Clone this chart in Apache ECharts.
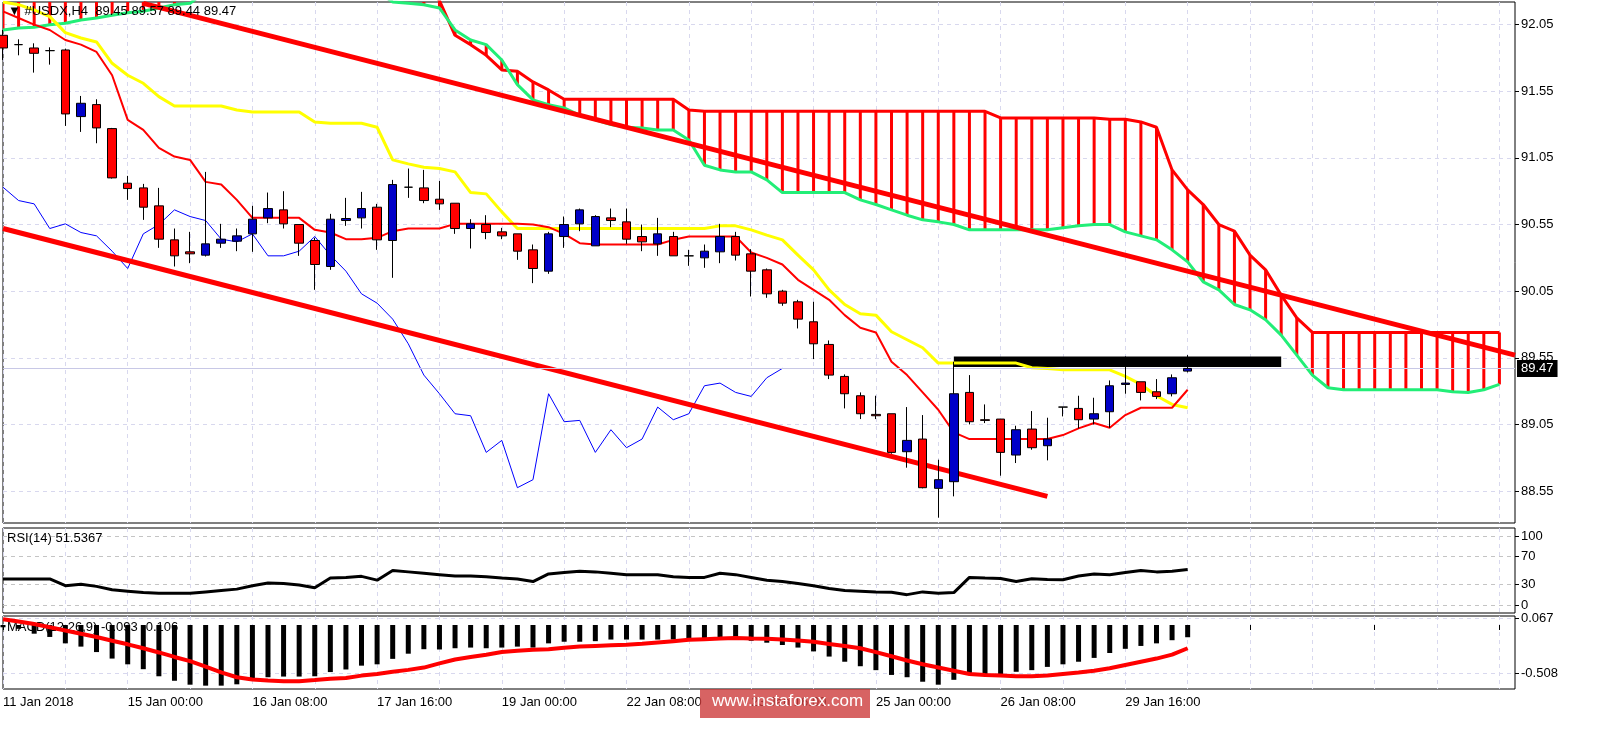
<!DOCTYPE html>
<html>
<head>
<meta charset="utf-8">
<title>USDX H4</title>
<script src="https://cdn.jsdelivr.net/npm/echarts@6/dist/echarts.min.js"></script>
<style>html,body{margin:0;background:#fff}</style>
</head>
<body>
<div id="main" style="width:1605px;height:734px;"></div>
<script type="text/javascript">
// candles, H4 bars from 11 Jan 2018
var opens  = [91.97,91.90,91.875,91.855,91.86,91.36,91.45,91.27,90.86,90.825,90.69,90.435,90.345,90.32,90.41,90.425,90.48,90.60,90.66,90.55,90.43,90.235,90.58,90.60,90.68,90.43,90.83,90.825,90.74,90.71,90.52,90.55,90.495,90.48,90.36,90.20,90.46,90.555,90.39,90.60,90.57,90.46,90.405,90.46,90.315,90.30,90.345,90.46,90.33,90.21,90.05,89.97,89.82,89.65,89.41,89.265,89.125,89.13,88.845,88.94,88.57,88.62,89.29,89.085,89.09,88.82,89.015,88.89,89.18,89.17,89.09,89.145,89.35,89.37,89.295,89.28,89.45];
var closes = [91.875,91.90,91.835,91.855,91.38,91.46,91.275,90.90,90.82,90.68,90.44,90.315,90.33,90.405,90.44,90.465,90.59,90.67,90.555,90.41,90.25,90.59,90.595,90.67,90.435,90.85,90.83,90.73,90.705,90.52,90.555,90.49,90.465,90.35,90.22,90.48,90.55,90.66,90.61,90.58,90.44,90.42,90.48,90.315,90.315,90.35,90.46,90.32,90.20,90.03,89.96,89.84,89.655,89.42,89.28,89.13,89.115,88.84,88.93,88.575,88.635,89.28,89.07,89.08,88.84,89.01,88.875,88.94,89.18,89.085,89.13,89.34,89.36,89.29,89.26,89.40,89.47];
var lows   = [91.785,91.82,91.69,91.75,91.29,91.245,91.16,90.895,90.735,90.585,90.375,90.235,90.26,90.31,90.375,90.35,90.345,90.56,90.52,90.315,90.06,90.21,90.54,90.52,90.36,90.15,90.75,90.71,90.66,90.48,90.37,90.44,90.44,90.285,90.11,90.18,90.375,90.50,90.39,90.53,90.405,90.35,90.315,90.315,90.24,90.225,90.26,90.28,90.01,90.00,89.94,89.77,89.54,89.39,89.17,89.09,89.09,88.83,88.725,88.57,88.35,88.51,89.05,89.06,88.665,88.76,88.86,88.78,89.11,89.02,89.05,89.025,89.28,89.23,89.24,89.26,89.44];
var highs  = [92.01,91.94,91.91,91.88,91.87,91.515,91.49,91.275,90.915,90.855,90.825,90.52,90.495,90.945,90.555,90.52,90.69,90.79,90.80,90.55,90.45,90.63,90.75,90.795,90.705,90.885,90.97,90.96,90.877,90.71,90.59,90.62,90.525,90.48,90.40,90.495,90.61,90.67,90.62,90.67,90.67,90.55,90.60,90.495,90.36,90.40,90.555,90.495,90.365,90.22,90.06,89.985,89.97,89.68,89.425,89.29,89.265,89.13,89.18,89.12,88.785,89.52,89.42,89.20,89.09,89.04,89.15,89.10,89.18,89.265,89.25,89.38,89.56,89.37,89.39,89.425,89.57];

// ichimoku
var tenkan = [92.15,92.10,92.05,92.01,91.935,91.90,91.845,91.67,91.335,91.26,91.125,91.06,91.035,90.87,90.85,90.735,90.60,90.60,90.60,90.60,90.51,90.49,90.44,90.44,90.45,90.50,90.52,90.52,90.52,90.555,90.555,90.555,90.555,90.555,90.55,90.53,90.48,90.41,90.40,90.40,90.40,90.40,90.40,90.435,90.46,90.46,90.46,90.46,90.34,90.30,90.25,90.135,90.06,89.985,89.87,89.775,89.74,89.52,89.42,89.29,89.16,88.99,88.94,88.94,88.94,88.94,88.94,88.94,88.97,89.02,89.06,89.025,89.12,89.175,89.175,89.175,89.31];
var kijun = [92.22,92.20,92.16,92.11,91.99,91.95,91.92,91.76,91.67,91.61,91.51,91.44,91.44,91.44,91.44,91.41,91.395,91.395,91.395,91.395,91.32,91.31,91.31,91.31,91.28,91.035,91.005,90.98,90.97,90.945,90.79,90.78,90.645,90.52,90.52,90.52,90.52,90.52,90.52,90.52,90.52,90.52,90.52,90.52,90.52,90.52,90.54,90.54,90.51,90.47,90.435,90.32,90.21,90.06,89.95,89.88,89.87,89.745,89.685,89.625,89.51,89.51,89.51,89.51,89.51,89.51,89.475,89.47,89.46,89.46,89.46,89.46,89.41,89.35,89.265,89.20,89.175];
var spanA = [92.4,92.4,92.4,92.4,92.4,92.4,92.4,92.4,92.4,92.4,92.4,92.4,92.4,92.4,92.4,92.4,92.4,92.4,92.4,92.4,92.4,92.4,92.4,92.4,92.4,92.4,92.4,92.4,92.23,91.97,91.90,91.82,91.71,91.70,91.62,91.56,91.49,91.49,91.49,91.49,91.49,91.49,91.49,91.49,91.41,91.40,91.40,91.40,91.40,91.40,91.40,91.40,91.40,91.40,91.40,91.40,91.40,91.40,91.40,91.40,91.40,91.40,91.40,91.40,91.35,91.35,91.35,91.35,91.35,91.35,91.35,91.34,91.34,91.32,91.28,90.96,90.81,90.70,90.55,90.50,90.32,90.21,90.02,89.85,89.74,89.74,89.74,89.74,89.74,89.74,89.74,89.74,89.74,89.74,89.74,89.74,89.74];
var spanB = [92.01,92.025,92.03,92.05,92.06,92.085,92.10,92.12,92.14,92.15,92.175,92.20,92.21,92.30,92.30,92.30,92.30,92.30,92.30,92.30,92.30,92.30,92.30,92.30,92.30,92.22,92.21,92.20,92.175,92.01,91.935,91.90,91.785,91.60,91.485,91.45,91.425,91.37,91.335,91.30,91.28,91.275,91.26,91.26,91.185,90.995,90.96,90.945,90.945,90.885,90.79,90.79,90.79,90.79,90.79,90.735,90.70,90.66,90.62,90.585,90.57,90.55,90.51,90.51,90.51,90.51,90.51,90.51,90.525,90.54,90.55,90.55,90.495,90.465,90.435,90.36,90.27,90.12,90.06,89.95,89.91,89.835,89.72,89.57,89.42,89.325,89.31,89.31,89.31,89.31,89.31,89.31,89.31,89.295,89.29,89.31,89.35];

// oscillators
var rsi = [37.7,37.7,37.7,37.7,28,30,27,22,20,18,17,17,17,19,21,23,28,32,31,29,25,39,40,41.5,36,50,48,46,44,42,42,41,39,37.7,34,45,47,49,48,46,44,44,44,41,40,40,46,44,40,36,34,31,28,24,21,20,19,18.5,15,19,17,18,40,39,38.5,34,38,37,36.5,42,45,44,47,50,48,49,51.5];
var macdHist = [-0.024,-0.040,-0.091,-0.125,-0.192,-0.226,-0.283,-0.351,-0.411,-0.462,-0.536,-0.583,-0.624,-0.634,-0.634,-0.620,-0.580,-0.546,-0.539,-0.539,-0.536,-0.492,-0.465,-0.425,-0.411,-0.354,-0.300,-0.253,-0.256,-0.243,-0.236,-0.243,-0.236,-0.226,-0.236,-0.192,-0.175,-0.175,-0.169,-0.152,-0.152,-0.152,-0.152,-0.152,-0.152,-0.142,-0.142,-0.148,-0.165,-0.185,-0.209,-0.236,-0.276,-0.330,-0.384,-0.431,-0.472,-0.522,-0.546,-0.593,-0.624,-0.573,-0.512,-0.512,-0.512,-0.489,-0.472,-0.438,-0.411,-0.384,-0.344,-0.293,-0.249,-0.219,-0.192,-0.159,-0.128];
var macdSignal = [0.061,0.037,0.010,-0.024,-0.057,-0.091,-0.125,-0.165,-0.202,-0.243,-0.287,-0.334,-0.378,-0.435,-0.496,-0.546,-0.570,-0.580,-0.587,-0.587,-0.576,-0.563,-0.553,-0.529,-0.512,-0.489,-0.469,-0.445,-0.401,-0.361,-0.334,-0.310,-0.283,-0.270,-0.260,-0.253,-0.239,-0.226,-0.219,-0.212,-0.206,-0.196,-0.182,-0.169,-0.155,-0.148,-0.142,-0.135,-0.142,-0.145,-0.152,-0.162,-0.175,-0.199,-0.219,-0.243,-0.283,-0.327,-0.371,-0.411,-0.445,-0.479,-0.512,-0.522,-0.529,-0.536,-0.536,-0.529,-0.512,-0.496,-0.479,-0.452,-0.418,-0.384,-0.351,-0.310,-0.243];

var priceTicks = [88.55, 89.05, 89.55, 90.05, 90.55, 91.05, 91.55, 92.05];
var rsiTicks = [0, 30, 70, 100];
var macdTicks = [-0.508, 0.067];
var dateLabels = ['11 Jan 2018','15 Jan 00:00','16 Jan 08:00','17 Jan 16:00','19 Jan 00:00','22 Jan 08:00','23 Jan 16:00','25 Jan 00:00','26 Jan 08:00','29 Jan 16:00'];
var lastPrice = 89.47;

var N = 98;
var cats = [];
for (var i = 0; i < N; i++) cats.push(i % 8 === 0 && dateLabels[i / 8] ? dateLabels[i / 8] : '');

var candles = opens.map(function (o, i) { return [o, closes[i], lows[i], highs[i]]; });
var chikou = closes.slice(26);
var cloud = spanA.map(function (a, i) { return [i, a, spanB[i]]; });

var font = 'Liberation Sans';
var gridLine = { show: true, interval: function (i) { return i % 4 === 0; }, lineStyle: { color: '#d8d8ee', type: [4, 4] } };

function xAx(g, labels) {
    return {
        type: 'category', gridIndex: g, data: cats, boundaryGap: false,
        axisLine: { show: false },
        axisTick: { show: labels, interval: function (i) { return i % 8 === 0; }, length: 5, lineStyle: { color: '#000' } },
        axisLabel: { show: labels, interval: function (i) { return i % 8 === 0; }, align: 'left', color: '#000', fontFamily: font, fontSize: 13, margin: 7 },
        splitLine: gridLine
    };
}
function yAx(g, min, max, ticks, splitType) {
    return {
        type: 'value', gridIndex: g, position: 'right', min: min, max: max, scale: true,
        axisLine: { show: false },
        axisTick: { show: true, customValues: ticks, length: 4, lineStyle: { color: '#000' } },
        axisLabel: { customValues: ticks, color: '#000', fontFamily: font, fontSize: 13, margin: 6 },
        splitLine: { show: true, lineStyle: { color: splitType, type: [4, 4] } }
    };
}

var myChart = echarts.init(document.getElementById('main'));
var option = {
    backgroundColor: '#fff',
    animation: false,
    grid: [
        { left: 3, right: 90, top: 2, height: 521, show: true, borderColor: '#000', borderWidth: 1 },
        { left: 3, right: 90, top: 528, height: 85, show: true, borderColor: '#000', borderWidth: 1 },
        { left: 3, right: 90, top: 616, height: 73, show: true, borderColor: '#000', borderWidth: 1 }
    ],
    xAxis: [xAx(0, false), xAx(1, false), xAx(2, true)],
    yAxis: [
        yAx(0, 88.31, 92.22, priceTicks, '#d8d8ee'),
        yAx(1, -11.6, 111.6, rsiTicks, '#c4c4c4'),
        yAx(2, -0.669, 0.094, macdTicks, '#d8d8ee')
    ],
    graphic: [
        { type: 'text', left: 8, top: 5, z: 100, style: { text: '▼ #USDX,H4  89.45 89.57 89.44 89.47', font: '13px Liberation Sans', fill: '#000' } },
        { type: 'text', left: 7, top: 532, z: 100, style: { text: 'RSI(14) 51.5367', font: '13px Liberation Sans', fill: '#000' } },
        { type: 'text', left: 7, top: 621, z: -1, zlevel: 0, style: { text: 'MACD(12,26,9) -0.093 -0.106', font: '13px Liberation Sans', fill: '#000' } },
        { type: 'rect', left: 700, top: 689, z: 100, shape: { width: 170, height: 29 }, style: { fill: 'rgba(205,60,60,0.8)' } },
        { type: 'text', left: 712, top: 693, z: 101, style: { text: 'www.instaforex.com', font: '17px Liberation Sans', fill: '#fff' } }
    ],
    series: [
        {
            type: 'custom', xAxisIndex: 0, yAxisIndex: 0, data: cloud, clip: true, z: 1,
            encode: { x: 0, y: [1, 2] },
            renderItem: function (params, api) {
                var p1 = api.coord([api.value(0), api.value(1)]);
                var p2 = api.coord([api.value(0), api.value(2)]);
                return { type: 'line', shape: { x1: p1[0], y1: p1[1], x2: p2[0], y2: p2[1] }, style: { stroke: '#ff0000', lineWidth: 3 } };
            }
        },
        { type: 'line', data: spanA, showSymbol: false, lineStyle: { color: '#ff0000', width: 3 }, z: 2 },
        { type: 'line', data: spanB, showSymbol: false, lineStyle: { color: '#22ee77', width: 3 }, z: 2 },
        {
            type: 'line', data: [], showSymbol: false, z: 3,
            markLine: {
                silent: true, symbol: 'none', label: { show: false },
                lineStyle: { color: '#ff0000', width: 5, type: 'solid' },
                data: [
                    [{ coord: [9, 92.21] }, { coord: [97, 89.57] }],
                    [{ coord: [0, 90.52] }, { coord: [67, 88.51] }]
                ]
            },
            markArea: {
                silent: true,
                itemStyle: { color: '#000' },
                data: [[{ coord: [61, 89.56] }, { coord: [82, 89.48] }]]
            }
        },
        { type: 'line', data: chikou, showSymbol: false, lineStyle: { color: '#0000ff', width: 1 }, z: 4 },
        { type: 'line', data: kijun, showSymbol: false, lineStyle: { color: '#ffff00', width: 3 }, z: 4 },
        { type: 'line', data: tenkan, showSymbol: false, lineStyle: { color: '#ff0000', width: 2 }, z: 4 },
        {
            type: 'candlestick', data: candles, barWidth: 9, z: 5,
            itemStyle: { color: '#0000c8', color0: '#ff0000', borderColor: '#000', borderColor0: '#000', borderWidth: 1 },
            markLine: {
                silent: true, symbol: 'none',
                lineStyle: { color: '#c8c8e6', width: 1, type: 'solid' },
                label: { position: 'end', formatter: '89.47', color: '#fff', backgroundColor: '#000', fontFamily: font, fontSize: 13, padding: [2, 4], distance: 2 },
                data: [{ yAxis: lastPrice }]
            }
        },
        {
            type: 'line', xAxisIndex: 1, yAxisIndex: 1, data: rsi, showSymbol: false,
            lineStyle: { color: '#000', width: 3 }
        },
        {
            type: 'bar', xAxisIndex: 2, yAxisIndex: 2, data: macdHist, barWidth: 5,
            itemStyle: { color: '#000' }
        },
        {
            type: 'line', xAxisIndex: 2, yAxisIndex: 2, data: macdSignal, showSymbol: false,
            lineStyle: { color: '#ff0000', width: 4 }
        }
    ]
};
myChart.setOption(option);
</script>
</body>
</html>
